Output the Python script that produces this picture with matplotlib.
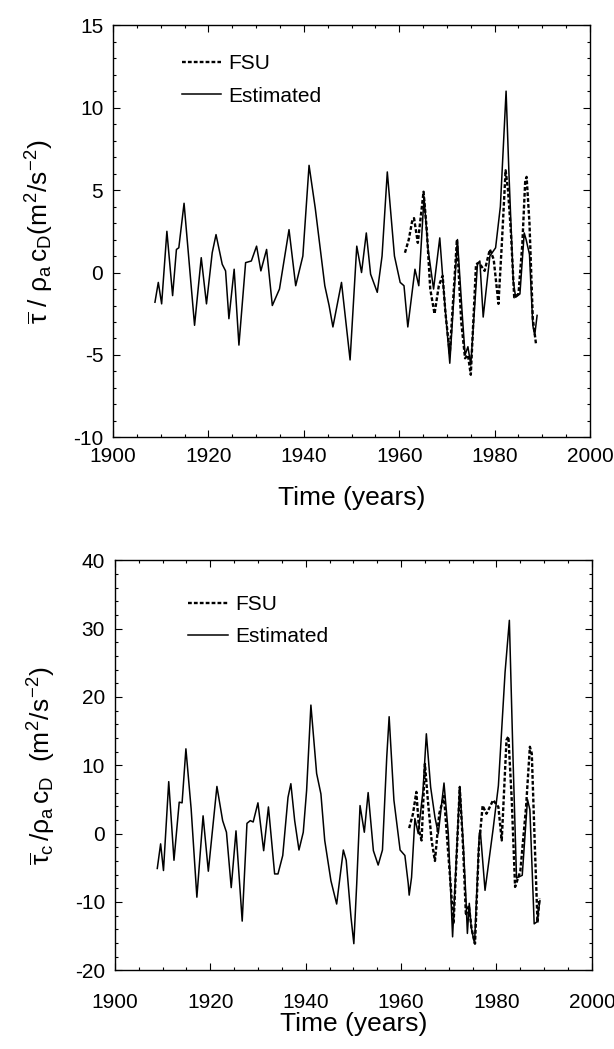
import numpy as np
import matplotlib
matplotlib.use('Agg')
import matplotlib.pyplot as plt
from matplotlib.ticker import MultipleLocator

# 上图: tau / rho_a c_D
est1_year = [1908.8, 1909.5, 1910.2, 1911.3, 1912.5, 1913.3, 1913.8, 1914.9, 1916.0, 1917.1,
             1918.5, 1919.6, 1920.8, 1921.6, 1922.9, 1923.6, 1924.3, 1925.4, 1926.4, 1927.8,
             1929.0, 1930.1, 1931.0, 1932.2, 1933.4, 1934.9, 1936.9, 1938.3, 1939.8, 1941.1,
             1942.4, 1944.4, 1945.3, 1946.1, 1947.9, 1949.7, 1951.1, 1952.1, 1953.1, 1954.0,
             1955.4, 1956.4, 1957.5, 1959.0, 1960.2, 1961.0, 1961.8, 1962.7, 1963.3, 1964.1,
             1965.2, 1966.0, 1967.2, 1968.5, 1969.3, 1970.6, 1972.2, 1973.2, 1973.8, 1974.4,
             1975.0, 1976.4, 1976.9, 1977.6, 1979.0, 1980.2, 1981.2, 1982.4, 1983.0, 1983.9,
             1984.4, 1985.3, 1986.2, 1986.6, 1987.3, 1988.0, 1988.4, 1988.9]
est1_val = [-1.8, -0.6, -1.9, 2.5, -1.4, 1.4, 1.5, 4.2, 0.5, -3.2,
            0.9, -1.9, 1.2, 2.3, 0.5, 0.1, -2.8, 0.2, -4.4, 0.6,
            0.7, 1.6, 0.1, 1.4, -2.0, -1.0, 2.6, -0.8, 1.0, 6.5,
            3.9, -0.8, -2.0, -3.3, -0.6, -5.3, 1.6, 0.0, 2.4, -0.1,
            -1.2, 1.0, 6.1, 1.0, -0.6, -0.8, -3.3, -1.2, 0.2, -0.8,
            4.6, 1.5, -1.0, 2.1, -1.0, -5.5, 2.0, -2.5, -5.0, -4.5,
            -5.6, 0.5, 0.7, -2.7, 1.0, 1.5, 4.0, 11.0, 6.0, -0.5,
            -1.5, -1.3, 2.4, 2.0, 1.1, -3.2, -3.8, -2.6]

fsu1_year = [1961.2, 1962.0, 1962.7, 1963.1, 1963.9, 1965.1, 1965.8, 1966.5, 1967.4, 1968.3,
             1969.1, 1969.7, 1970.6, 1972.1, 1973.0, 1973.8, 1974.4, 1975.0, 1976.1, 1976.7,
             1977.9, 1979.0, 1979.8, 1980.8, 1981.5, 1982.3, 1982.8, 1983.4, 1984.1, 1985.0,
             1985.8, 1986.4, 1986.7, 1987.3, 1988.0, 1988.7]
fsu1_val = [1.2, 2.0, 3.1, 3.3, 1.8, 4.9, 2.5, -1.0, -2.5, -0.8,
            -0.2, -2.5, -4.9, 2.0, -3.0, -5.2, -5.0, -6.2, 0.5, 0.6,
            0.1, 1.4, 0.8, -1.9, 1.7, 6.2, 5.0, 2.5, -1.5, -1.3,
            1.7, 5.5, 5.8, 3.0, -2.8, -4.4]

# 下图: tau_c / rho_a c_D
est2_year = [1908.9, 1909.6, 1910.2, 1911.3, 1912.4, 1913.5, 1914.1, 1914.9, 1916.0, 1917.2,
             1918.5, 1919.6, 1921.4, 1922.6, 1923.4, 1924.4, 1925.4, 1926.7, 1927.7, 1928.4,
             1929.0, 1930.0, 1931.2, 1932.2, 1933.5, 1934.2, 1935.2, 1936.3, 1936.9, 1937.7,
             1938.6, 1939.5, 1940.2, 1941.1, 1942.3, 1943.2, 1944.0, 1945.3, 1946.5, 1947.9,
             1948.5, 1949.5, 1950.1, 1950.7, 1951.4, 1952.3, 1953.1, 1954.2, 1955.2, 1956.1,
             1957.0, 1957.5, 1958.5, 1959.8, 1960.8, 1961.5, 1961.7, 1962.2, 1962.9, 1963.6,
             1964.6, 1965.3, 1966.2, 1967.1, 1967.8, 1969.0, 1969.9, 1970.8, 1972.3, 1973.0,
             1973.6, 1973.9, 1974.3, 1974.7, 1975.4, 1976.4, 1976.6, 1977.6, 1979.3, 1980.4,
             1981.8, 1982.7, 1983.5, 1984.2, 1985.4, 1986.5, 1987.0, 1987.9, 1988.5, 1989.1]
est2_val = [-5.1, -1.5, -5.4, 7.6, -3.9, 4.6, 4.5, 12.4, 3.6, -9.3,
            2.6, -5.5, 6.9, 1.9, 0.2, -7.9, 0.4, -12.8, 1.5, 1.9,
            1.7, 4.5, -2.5, 3.9, -5.9, -5.9, -3.2, 5.3, 7.3, 1.9,
            -2.4, 0.2, 6.3, 18.8, 8.8, 5.8, -1.0, -6.9, -10.3, -2.4,
            -3.9, -12.2, -16.1, -7.4, 4.1, 0.2, 6.0, -2.5, -4.6, -2.4,
            11.2, 17.1, 4.9, -2.4, -3.2, -7.3, -9.0, -6.4, 2.2, 0.0,
            6.3, 14.6, 6.8, 2.4, 0.0, 7.4, 0.0, -15.1, 6.9, -1.0,
            -9.5, -14.6, -10.2, -13.7, -16.1, 0.0, 0.5, -8.3, 0.7, 7.0,
            23.6, 31.2, 10.2, -6.5, -6.1, 5.0, 3.5, -13.2, -12.9, -9.8]

fsu2_year = [1961.7, 1962.5, 1963.2, 1963.8, 1964.3, 1965.0, 1965.6, 1966.4, 1967.1, 1968.0,
             1969.0, 1969.9, 1971.0, 1972.3, 1973.0, 1973.6, 1974.2, 1974.8, 1975.5, 1976.3,
             1977.1, 1977.9, 1979.3, 1980.4, 1981.1, 1982.1, 1982.5, 1983.2, 1983.9, 1985.0,
             1986.2, 1987.0, 1987.4, 1988.0, 1988.6, 1989.0]
fsu2_val = [0.8, 2.9, 6.1, 0.4, -1.0, 10.2, 5.0, -1.0, -4.0, 2.9,
            5.5, -3.0, -13.2, 6.8, -2.0, -12.0, -10.5, -14.0, -16.1, -2.0,
            4.1, 2.9, 4.9, 3.9, -1.0, 13.7, 14.2, 4.9, -7.8, -5.5,
            3.9, 12.7, 11.7, -1.0, -13.0, -9.5]

plt.rcParams['font.family'] = ['Liberation Sans', 'DejaVu Sans']
plt.rcParams['axes.unicode_minus'] = False
plt.rcParams['mathtext.fontset'] = 'custom'
plt.rcParams['mathtext.rm'] = 'Liberation Sans'
plt.rcParams['mathtext.it'] = 'Liberation Sans'
plt.rcParams['mathtext.bf'] = 'Liberation Sans:bold'

fig = plt.figure(figsize=(6.14, 10.49), dpi=100)
ax1 = fig.add_axes([0.184, 0.583, 0.777, 0.393])
ax2 = fig.add_axes([0.187, 0.075, 0.777, 0.391])

dash = (0, (1.6, 0.9))


def style(ax, ymin, ymax, ymaj, ymin_step):
    ax.set_xlim(1900, 2000)
    ax.set_ylim(ymin, ymax)
    ax.xaxis.set_major_locator(MultipleLocator(20))
    ax.xaxis.set_minor_locator(MultipleLocator(5))
    ax.yaxis.set_major_locator(MultipleLocator(ymaj))
    ax.yaxis.set_minor_locator(MultipleLocator(ymin_step))
    ax.tick_params(which='both', direction='in', top=True, right=True, labelsize=15, width=0.8)
    ax.tick_params(which='major', length=5, pad=7)
    ax.tick_params(which='minor', length=2.5)
    for s in ax.spines.values():
        s.set_linewidth(1.0)


ax1.plot(fsu1_year, fsu1_val, color='black', linestyle=dash, linewidth=1.7, label='FSU')
ax1.plot(est1_year, est1_val, color='black', linewidth=1.1, label='Estimated')
style(ax1, -10, 15, 5, 1)
ax1.set_xlabel('Time (years)', fontsize=19, labelpad=14)
ax1.set_ylabel(r'$\overline{\tau}\ /\ \rho_a\,c_D(m^2/s^{-2})$', fontsize=19, labelpad=12)
ax1.legend(loc='upper left', bbox_to_anchor=(0.105, 0.975), frameon=False, fontsize=15,
           handlelength=1.9, handletextpad=0.35, labelspacing=0.65)

ax2.plot(fsu2_year, fsu2_val, color='black', linestyle=dash, linewidth=1.7, label='FSU')
ax2.plot(est2_year, est2_val, color='black', linewidth=1.1, label='Estimated')
style(ax2, -20, 40, 10, 2)
ax2.tick_params(axis='x', which='major', pad=16)
ax2.set_xlabel('Time (years)', fontsize=19, labelpad=0)
ax2.set_ylabel(r'$\overline{\tau}_c\,/\rho_a\,c_D\ \ (m^2/s^{-2})$', fontsize=19, labelpad=12)
ax2.legend(loc='upper left', bbox_to_anchor=(0.115, 0.96), frameon=False, fontsize=15,
           handlelength=1.9, handletextpad=0.35, labelspacing=0.6)

plt.savefig('out.png', dpi=100)
